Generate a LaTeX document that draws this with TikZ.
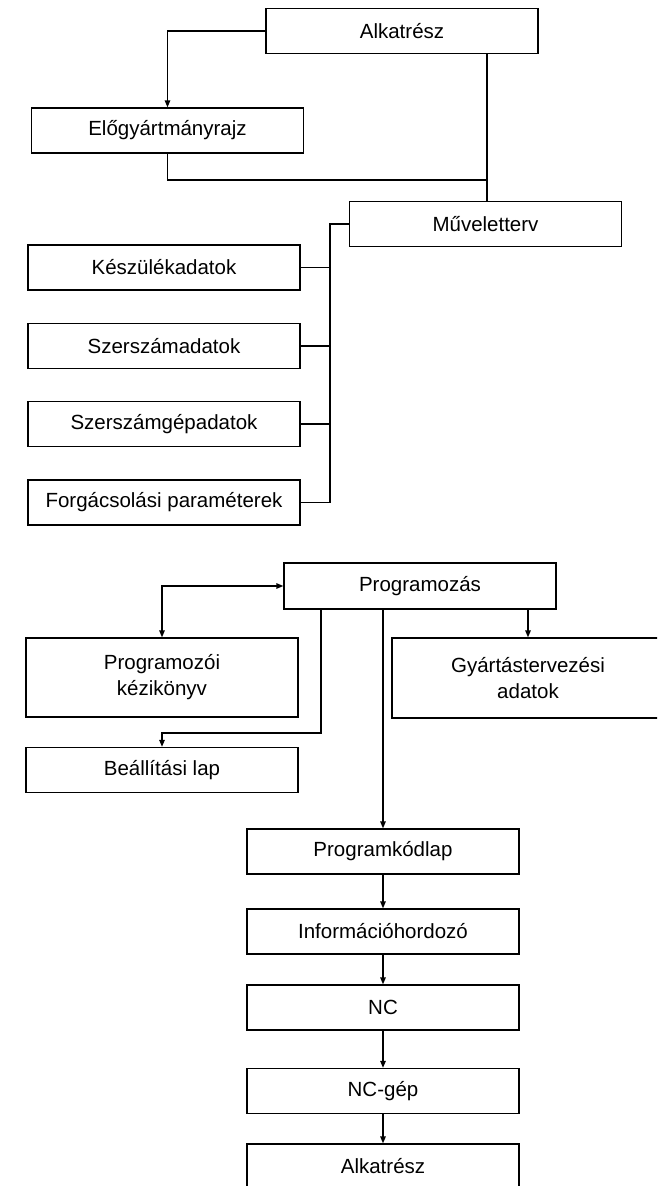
\documentclass[tikz,border=0pt]{standalone}
\usepackage{fontspec}
\setmainfont{Liberation Sans}
\usetikzlibrary{arrows.meta}
\begin{document}
\begin{tikzpicture}[x=1pt,y=-1pt,
  box/.style={draw, line width=1.3pt, rectangle, inner sep=0pt, align=center,
    minimum width=272pt, minimum height=45pt,
    font=\fontsize{20.5}{26}\selectfont},
  link/.style={line width=1.3pt},
  arrowlink/.style={link, -{Triangle[length=7pt,width=5.5pt]}},
  twoway/.style={link, {Triangle[length=7pt,width=5.5pt]}-{Triangle[length=7pt,width=5.5pt]}}]
\clip (0,0) rectangle (657,1186);
\fill[white] (0,0) rectangle (657,1186);

% design stage
\node[box] (alk1)   at (402,31)    {Alkatrész};
\node[box] (elo)    at (167.5,130.5) {Előgyártmányrajz};
\node[box] (muv)    at (485.5,224) {Műveletterv};
\node[box] (kesz)   at (164,267.5) {Készülékadatok};
\node[box] (szersz) at (164,346)   {Szerszámadatok};
\node[box] (szgep)  at (164,424)   {Szerszámgépadatok};
\node[box] (forg)   at (164,502.5) {Forgácsolási paraméterek};

% programming stage
\node[box, minimum height=46pt] (prog) at (420,586) {Programozás};
\node[box, minimum height=79pt] (pkezi) at (162,677.5) {Programozói\\kézikönyv};
\node[box, minimum height=80pt] (gyart) at (528,678) {Gyártástervezési\\adatok};
\node[box] (beall)  at (162,770)    {Beállítási lap};
\node[box] (pkod)   at (383,851.5)  {Programkódlap};
\node[box] (info)   at (383,931.5)  {Információhordozó};
\node[box] (nc)     at (383,1007.5) {NC};
\node[box] (ncgep)  at (383,1091)   {NC-gép};
\node[box] (alk2)   at (383,1166.5) {Alkatrész};

% junctions
\coordinate (j1) at (487,180);
\coordinate (bus) at (330,224);
\coordinate (t1) at (321,733);

% connectors, upper part
\draw[arrowlink] (alk1.west) -| (elo.north);
\draw[link] (alk1.south -| j1) -- (muv.north -| j1);
\draw[link] (elo.south) |- (j1);
\draw[link] (muv.west) -| (bus |- forg.east) -- (forg.east);
\draw[link] (kesz.east) -- (kesz.east -| bus);
\draw[link] (szersz.east) -- (szersz.east -| bus);
\draw[link] (szgep.east) -- (szgep.east -| bus);

% connectors, lower part
\draw[twoway] (pkezi.north) |- (prog.west);
\draw[arrowlink] (prog.south -| t1) -- (t1) -| (beall.north);
\draw[arrowlink] (prog.south -| pkod.north) -- (pkod.north);
\draw[arrowlink] (prog.south -| gyart.north) -- (gyart.north);
\draw[arrowlink] (pkod) -- (info);
\draw[arrowlink] (info) -- (nc);
\draw[arrowlink] (nc) -- (ncgep);
\draw[arrowlink] (ncgep) -- (alk2);
\end{tikzpicture}
\end{document}
